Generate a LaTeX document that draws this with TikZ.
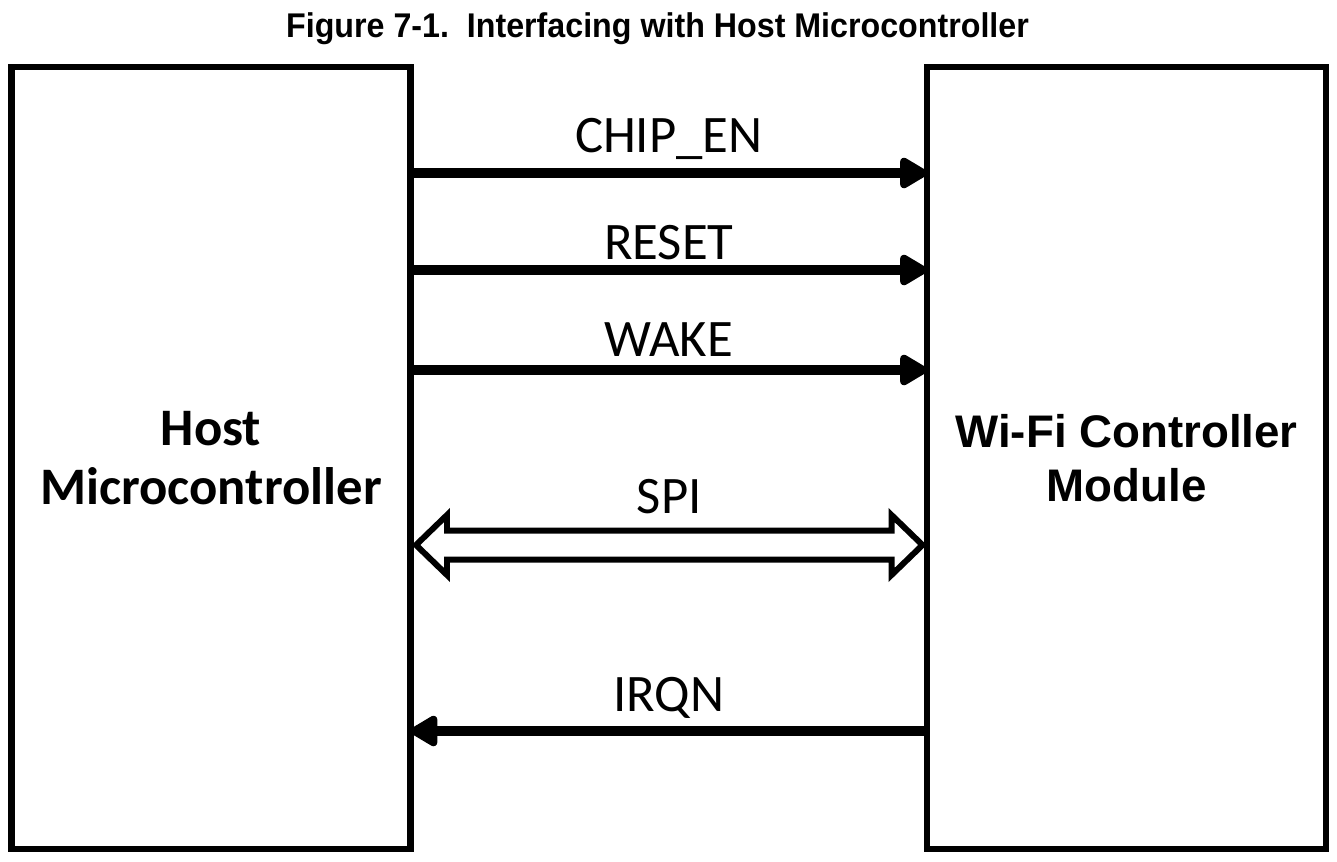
\documentclass[tikz,border=0pt]{standalone}
\usepackage{fontspec}
\setmainfont{Carlito}
\newfontfamily\arialfont{Liberation Sans}
\newfontfamily\titlefont[FakeStretch=0.94]{Liberation Sans}
\usetikzlibrary{arrows.meta, positioning, calc}

\begin{document}
\begin{tikzpicture}[
    block/.style={rectangle, draw=black, line width=3.6pt, outer sep=0pt, minimum width=7.98cm, minimum height=15.65cm, align=center},
    sig/.style={-{Triangle[length=0.62cm, width=0.68cm, round]}, line width=6pt},
    sigback/.style={{Triangle[length=0.62cm, width=0.68cm, round]}-, line width=6pt},
    bus/.style={line width=3.4pt, miter limit=10},
    sig_label/.style={font=\fontsize{30}{36}\selectfont, anchor=base, inner sep=0pt},
    title/.style={font=\titlefont\bfseries\fontsize{19.5}{24}\selectfont}
]
    % Page frame
    \useasboundingbox (0,0) rectangle (26.74,-17.22);

    % Title
    \node[title] (caption) at (13.15,-0.58) {Figure 7-1.\ \ Interfacing with Host Microcontroller};

    % Blocks
    \node[block, font=\bfseries\fontsize{30}{34}\selectfont] (host) at (4.22,-9.16) {Host\\Microcontroller};
    \node[block, font=\arialfont\bfseries\fontsize{26}{31}\selectfont, right=10.33cm of host] (wifi) {Wi-Fi Controller\\Module};

    % Host -> module control lines
    \draw[sig] ([yshift=5.7cm]host.east) -- ([yshift=5.7cm]wifi.west)
        node[sig_label, midway, yshift=0.42cm] (chipen) {CHIP\_EN};
    \draw[sig] ([yshift=3.76cm]host.east) -- ([yshift=3.76cm]wifi.west)
        node[sig_label, midway, yshift=0.22cm] (reset) {RESET};
    \draw[sig] ([yshift=1.76cm]host.east) -- ([yshift=1.76cm]wifi.west)
        node[sig_label, midway, yshift=0.27cm] (wake) {WAKE};

    % SPI bus (hollow double arrow)
    \coordinate (spi_l) at ([xshift=0.11cm, yshift=-1.74cm]host.east);
    \coordinate (spi_r) at ([xshift=-0.09cm, yshift=-1.74cm]wifi.west);
    \draw[bus] (spi_l) -- ++(0.62,0.6) -- ++(0,-0.31) -- ($(spi_r)+(-0.62,0.29)$)
        -- ++(0,0.31) -- (spi_r) -- ++(-0.62,-0.6) -- ++(0,0.31)
        -- ($(spi_l)+(0.62,-0.29)$) -- ++(0,-0.31) -- cycle;
    \node[sig_label] (spi) at ($(spi_l)!0.5!(spi_r)+(0,0.64)$) {SPI};

    % Interrupt back to host
    \draw[sigback] ([yshift=-5.46cm]host.east) -- ([yshift=-5.46cm]wifi.west)
        node[sig_label, midway, yshift=0.4cm] (irqn) {IRQN};

\end{tikzpicture}
\end{document}
